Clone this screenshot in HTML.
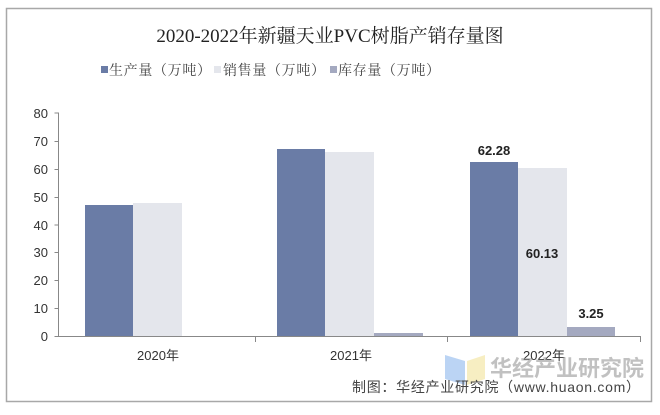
<!DOCTYPE html>
<html><head><meta charset="utf-8"><style>
body{margin:0;background:#fff;width:660px;height:410px;overflow:hidden}
</style></head><body>
<svg width="660" height="410" xmlns="http://www.w3.org/2000/svg" font-family="Liberation Sans, Noto Sans CJK SC, sans-serif">
<rect x="0" y="0" width="660" height="410" fill="#fff"/>
<rect x="6.5" y="8.5" width="645" height="393" fill="none" stroke="#a8a8a8" stroke-width="1.5"/>
<text x="330" y="42" text-anchor="middle" font-size="19" font-family="Liberation Serif, Noto Serif CJK SC, serif" fill="#222">2020-2022年新疆天业PVC树脂产销存量图</text>
<g font-size="14" fill="#444" font-family="Liberation Serif, Noto Serif CJK SC, serif">
<rect x="101" y="66" width="7" height="7" fill="#6a7ca6"/><text x="109" y="75" textLength="102">生产量（万吨）</text>
<rect x="214" y="66" width="7" height="7" fill="#e4e6ec"/><text x="223" y="75" textLength="102">销售量（万吨）</text>
<rect x="330" y="66" width="7" height="7" fill="#a4a9c0"/><text x="338" y="75" textLength="102">库存量（万吨）</text>
</g>
<g font-size="13" fill="#333" text-anchor="end">
<text x="48" y="118">80</text><text x="48" y="146">70</text><text x="48" y="174">60</text><text x="48" y="202">50</text><text x="48" y="230">40</text><text x="48" y="257">30</text><text x="48" y="285">20</text><text x="48" y="313">10</text><text x="48" y="341">0</text>
</g>
<g stroke="#888" stroke-width="1" fill="none">
<path d="M54.5 113 H58.5 V336.5 H640"/>
<path d="M54.5 141.5H58.5M54.5 169.5H58.5M54.5 197.5H58.5M54.5 225H58.5M54.5 252.5H58.5M54.5 280.5H58.5M54.5 308.5H58.5M54.5 336.5H58.5"/>
<path d="M255.5 336V342M447.5 336V342M640.5 336V342"/>
</g>
<g>
<rect x="85" y="205" width="48" height="131" fill="#6a7ca6"/>
<rect x="133" y="203" width="49" height="133" fill="#e4e6ec"/>
<rect x="277" y="149" width="48" height="187" fill="#6a7ca6"/>
<rect x="325" y="152" width="49" height="184" fill="#e4e6ec"/>
<rect x="374" y="333" width="49" height="3" fill="#a4a9c0"/>
<rect x="470" y="162" width="48" height="174" fill="#6a7ca6"/>
<rect x="518" y="168" width="49" height="168" fill="#e4e6ec"/>
<rect x="567" y="327" width="48" height="9" fill="#a4a9c0"/>
</g>
<g font-size="13" font-weight="bold" fill="#222" text-anchor="middle">
<text x="494" y="155">62.28</text><text x="542" y="258">60.13</text><text x="591" y="318">3.25</text>
</g>
<g font-size="13" fill="#333" text-anchor="middle">
<text x="158" y="360">2020年</text><text x="351" y="360">2021年</text><text x="544" y="360">2022年</text>
</g>
<g opacity="0.6">
<path d="M445 355 L465 361 L465 385 L445 379Z" fill="#8fb8ee"/>
<path d="M467 361 L485 355 L485 379 L467 385Z" fill="#f2e49a"/>
<text x="490" y="376" font-size="22" font-weight="bold" fill="#999">华经产业研究院</text>
</g>
<text x="352" y="392" font-size="14" fill="#444" textLength="288">制图：华经产业研究院（www.huaon.com）</text>
</svg>
</body></html>
